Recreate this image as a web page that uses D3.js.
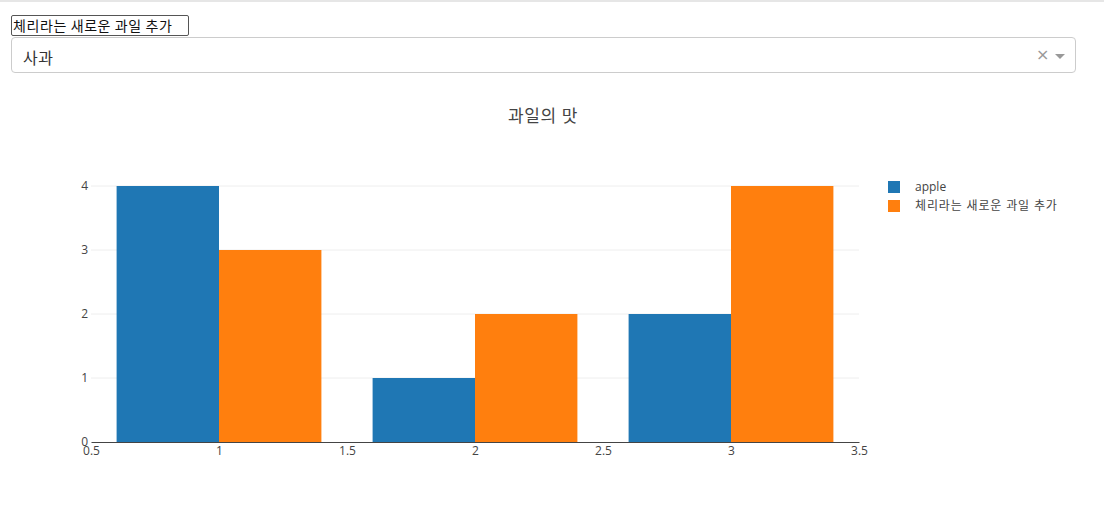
<!DOCTYPE html>
<html>
<head>
<meta charset="utf-8">
<script src="https://cdn.jsdelivr.net/npm/d3@7"></script>
<style>
  body { margin: 0; font-family: "Open Sans", "Noto Sans CJK KR", sans-serif; background: #fff; }
  .topline { position: absolute; left: 0; top: 0; width: 1104px; height: 2px; background: #e6e6e6; }
  #inp { position: absolute; left: 11px; top: 15px; width: 174px; height: 19px; border: 1px solid #555; border-radius: 2px; font: 14px "Noto Sans CJK KR", sans-serif; letter-spacing: 0.6px; padding: 0 1px; line-height: 19px; color: #111; box-sizing: content-box; white-space: nowrap; overflow: hidden; }
  #sel { position: absolute; left: 11px; top: 37px; width: 1063px; height: 34px; border: 1px solid #ccc; border-radius: 4px; }
  #sel .val { position: absolute; left: 11px; top: 7px; font: 16px "Noto Sans CJK KR", sans-serif; letter-spacing: 0.5px; color: #333; }
  #sel .x { position: absolute; left: 1024px; top: 7px; font: 16px "DejaVu Sans", sans-serif; color: #999; }
  #sel .arrow { position: absolute; left: 1043px; top: 16px; width: 0; height: 0; border-left: 5px solid transparent; border-right: 5px solid transparent; border-top: 5px solid #999; }
  svg { position: absolute; left: 0; top: 0; pointer-events: none; }
</style>
</head>
<body>
<div class="topline"></div>
<div id="inp">체리라는 새로운 과일 추가</div>
<div id="sel"><span class="val">사과</span><span class="x">×</span><span class="arrow"></span></div>
<svg id="chart" width="1104" height="511"></svg>
<script>
const categories = [1, 2, 3];
const seriesNames = ['apple', '체리라는 새로운 과일 추가'];
const appleValues = [4, 1, 2];
const cherryValues = [3, 2, 4];
const colors = ['#1f77b4', '#ff7f0e'];
const xTicks = [0.5, 1, 1.5, 2, 2.5, 3, 3.5];
const yTicks = [0, 1, 2, 3, 4];
const title = '과일의 맛';

const svg = d3.select('#chart');
const font = '"Open Sans", "Noto Sans CJK KR", sans-serif';
const plotLeft = 91, plotRight = 859, plotTop = 186, plotBottom = 442;

const x = d3.scaleLinear().domain([0.5, 3.5]).range([plotLeft, plotRight]);
const y = d3.scaleLinear().domain([0, 4]).range([plotBottom, plotTop]);

// grid
svg.append('g').selectAll('line')
  .data(yTicks.filter(d => d > 0))
  .join('line')
  .attr('x1', plotLeft).attr('x2', plotRight)
  .attr('y1', d => y(d)).attr('y2', d => y(d))
  .attr('stroke', '#eee').attr('stroke-width', 1);

// bars
const series = [appleValues, cherryValues];
const barW = 0.4;
series.forEach((vals, si) => {
  svg.append('g').selectAll('rect')
    .data(categories.map((c, i) => ({ c, v: vals[i] })))
    .join('rect')
    .attr('x', d => x(d.c - barW + si * barW))
    .attr('width', d => x(d.c + barW) - x(d.c))
    .attr('y', d => y(d.v))
    .attr('height', d => y(0) - y(d.v))
    .attr('fill', colors[si]);
});

// axes
const xAxis = svg.append('g')
  .attr('transform', `translate(0,${plotBottom})`)
  .call(d3.axisBottom(x).tickValues(xTicks).tickSize(0).tickPadding(4).tickFormat(d3.format('')));
xAxis.select('.domain').attr('stroke', '#444');
xAxis.selectAll('text').attr('font-family', font).attr('font-size', 12).attr('fill', '#444');

const yAxis = svg.append('g')
  .attr('transform', `translate(${plotLeft},0)`)
  .call(d3.axisLeft(y).tickValues(yTicks).tickSize(0).tickPadding(3).tickFormat(d3.format('d')));
yAxis.select('.domain').remove();
yAxis.selectAll('text').attr('font-family', font).attr('font-size', 12).attr('fill', '#444');

// title
svg.append('text')
  .attr('x', 543).attr('y', 122)
  .attr('text-anchor', 'middle')
  .attr('font-family', font).attr('font-size', 17).attr('fill', '#444')
  .attr('letter-spacing', 0.6)
  .text(title);

// legend
const legend = svg.append('g').attr('transform', 'translate(888,187)');
seriesNames.forEach((name, i) => {
  const g = legend.append('g').attr('transform', `translate(0,${i * 19})`);
  g.append('rect').attr('x', 0).attr('y', -6).attr('width', 12).attr('height', 12)
    .attr('fill', colors[i]);
  g.append('text').attr('x', 27).attr('y', 4)
    .attr('font-family', font).attr('font-size', 12).attr('fill', '#444')
    .attr('letter-spacing', i === 1 ? 0.85 : 0)
    .text(name);
});
</script>
</body>
</html>
